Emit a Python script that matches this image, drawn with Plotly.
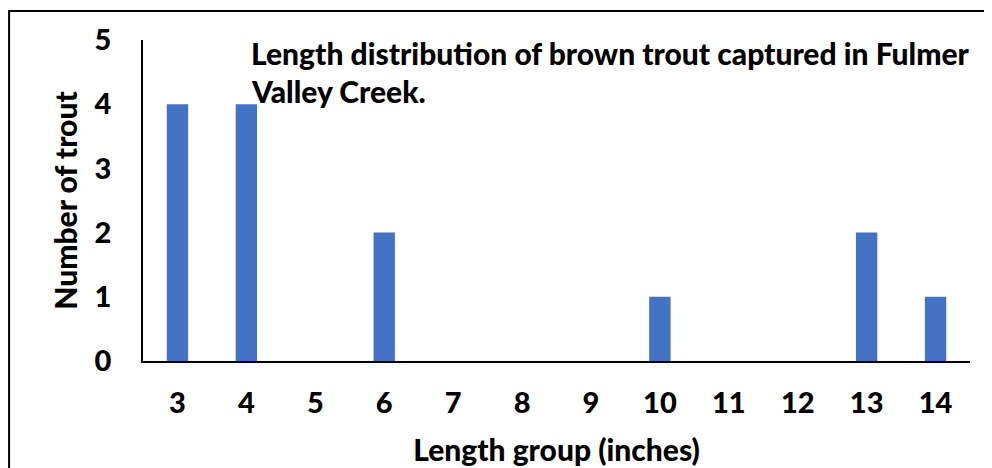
import plotly.graph_objects as go

categories = ["3", "4", "5", "6", "7", "8", "9", "10", "11", "12", "13", "14"]
counts = [4, 4, 0, 2, 0, 0, 0, 1, 0, 0, 2, 1]
y_ticks = [0, 1, 2, 3, 4, 5]

FONT = "Lato"
OFF = 8  # page body margin offset
W, H = 992, 468
L = 143 - OFF
T = 40 - OFF
B = H - (361 - OFF)
R = W - (970.5 - OFF)
pw, ph = W - L - R, H - T - B

def px_x(x):
    return (x - OFF - L) / pw

def px_y(y):
    return (H - B - (y - OFF)) / ph

fig = go.Figure()
fig.add_trace(go.Bar(
    x=categories, y=counts, marker_color="#4472C4", width=0.31,
    marker_line_width=0,
))

fig.update_layout(
    width=W, height=H,
    margin=dict(l=L, r=R, t=T, b=B, autoexpand=False),
    plot_bgcolor="white", paper_bgcolor="white",
    showlegend=False,
    font=dict(family=FONT, color="black"),
    xaxis=dict(
        type="category", showgrid=False, showline=True, linecolor="black", linewidth=1.5,
        ticks="", tickfont=dict(size=29, family=FONT, weight=900),
        ticklabelstandoff=15, automargin=False,
        title=dict(text="Length group (inches)", font=dict(size=30, family=FONT, weight=900), standoff=22),
        fixedrange=True,
    ),
    yaxis=dict(
        range=[0, 5], tickvals=y_ticks, showgrid=False, showline=True, linecolor="black", linewidth=1.5,
        ticks="", tickfont=dict(size=29, family=FONT, weight=900),
        ticklabelstandoff=24, zeroline=False, automargin=False,
        title=dict(text="Number of trout", font=dict(size=30, family=FONT, weight=900), standoff=8),
        fixedrange=True,
    ),
    shapes=[dict(type="rect", xref="paper", yref="paper",
                 x0=px_x(9), x1=px_x(1010), y0=px_y(490), y1=px_y(11),
                 line=dict(color="black", width=2), fillcolor="rgba(0,0,0,0)", layer="below")],
    annotations=[
        dict(text="Length distribution of brown trout captured in Fulmer",
             xref="paper", yref="paper", x=px_x(249), y=px_y(53), xanchor="left", yanchor="middle",
             showarrow=False, font=dict(size=30, family=FONT, weight=900)),
        dict(text="Valley Creek.",
             xref="paper", yref="paper", x=px_x(249), y=px_y(91), xanchor="left", yanchor="middle",
             showarrow=False, font=dict(size=30, family=FONT, weight=900)),
    ],
)

fig.write_html("out.html")
